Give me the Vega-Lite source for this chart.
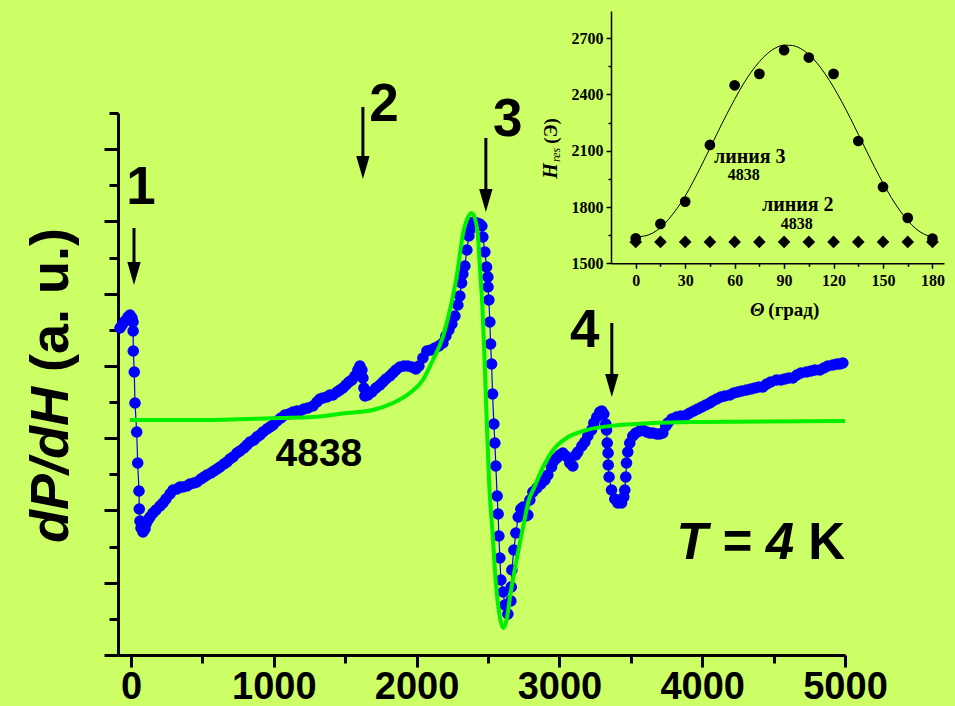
{
  "$schema": "https://vega.github.io/schema/vega-lite/v6.json",
  "width": 727,
  "height": 542,
  "autosize": {"type": "none"},
  "padding": {"left": 118, "top": 113, "right": 110, "bottom": 51},
  "background": "#CCFF66",
  "config": {"view": {"stroke": null}, "axis": {"grid": false}},
  "datasets": {
    "scan": [
      {"H": -77, "Y": 327}, {"H": -63, "Y": 330}, {"H": -42, "Y": 334}, {"H": -21, "Y": 338}, {"H": -7, "Y": 340},
      {"H": 7, "Y": 337}, {"H": 14, "Y": 333}, {"H": 15, "Y": 324}, {"H": 16, "Y": 304}, {"H": 23, "Y": 283},
      {"H": 28, "Y": 252}, {"H": 40, "Y": 223}, {"H": 47, "Y": 192}, {"H": 56, "Y": 164}, {"H": 58, "Y": 146},
      {"H": 63, "Y": 134}, {"H": 70, "Y": 127}, {"H": 84, "Y": 123}, {"H": 98, "Y": 126}, {"H": 105, "Y": 131},
      {"H": 119, "Y": 135}, {"H": 133, "Y": 138}, {"H": 154, "Y": 142}, {"H": 175, "Y": 145}, {"H": 203, "Y": 149},
      {"H": 224, "Y": 152}, {"H": 245, "Y": 156}, {"H": 273, "Y": 161}, {"H": 294, "Y": 165}, {"H": 322, "Y": 166},
      {"H": 343, "Y": 168}, {"H": 364, "Y": 168}, {"H": 392, "Y": 169}, {"H": 413, "Y": 171}, {"H": 441, "Y": 172},
      {"H": 462, "Y": 173}, {"H": 490, "Y": 176}, {"H": 511, "Y": 178}, {"H": 532, "Y": 180}, {"H": 560, "Y": 182},
      {"H": 581, "Y": 184}, {"H": 602, "Y": 186}, {"H": 623, "Y": 188}, {"H": 651, "Y": 191}, {"H": 672, "Y": 193},
      {"H": 693, "Y": 196}, {"H": 714, "Y": 198}, {"H": 742, "Y": 202}, {"H": 763, "Y": 204}, {"H": 791, "Y": 207},
      {"H": 812, "Y": 210}, {"H": 833, "Y": 213}, {"H": 861, "Y": 215}, {"H": 882, "Y": 218}, {"H": 903, "Y": 220},
      {"H": 924, "Y": 223}, {"H": 952, "Y": 226}, {"H": 973, "Y": 228}, {"H": 994, "Y": 230}, {"H": 1022, "Y": 234},
      {"H": 1050, "Y": 237}, {"H": 1078, "Y": 240}, {"H": 1106, "Y": 241}, {"H": 1134, "Y": 243}, {"H": 1162, "Y": 244},
      {"H": 1183, "Y": 244}, {"H": 1211, "Y": 246}, {"H": 1239, "Y": 247}, {"H": 1274, "Y": 249}, {"H": 1302, "Y": 253},
      {"H": 1323, "Y": 256}, {"H": 1344, "Y": 257}, {"H": 1372, "Y": 258}, {"H": 1393, "Y": 260}, {"H": 1414, "Y": 260},
      {"H": 1442, "Y": 263}, {"H": 1463, "Y": 265}, {"H": 1484, "Y": 267}, {"H": 1505, "Y": 270}, {"H": 1526, "Y": 273},
      {"H": 1547, "Y": 275}, {"H": 1568, "Y": 279}, {"H": 1589, "Y": 285}, {"H": 1603, "Y": 289}, {"H": 1617, "Y": 285},
      {"H": 1624, "Y": 277}, {"H": 1631, "Y": 267}, {"H": 1638, "Y": 259}, {"H": 1659, "Y": 260}, {"H": 1687, "Y": 263},
      {"H": 1715, "Y": 267}, {"H": 1743, "Y": 270}, {"H": 1764, "Y": 273}, {"H": 1785, "Y": 276}, {"H": 1813, "Y": 279},
      {"H": 1834, "Y": 282}, {"H": 1855, "Y": 285}, {"H": 1883, "Y": 288}, {"H": 1911, "Y": 289}, {"H": 1939, "Y": 289},
      {"H": 1967, "Y": 288}, {"H": 1995, "Y": 286}, {"H": 2016, "Y": 289}, {"H": 2044, "Y": 297}, {"H": 2072, "Y": 304},
      {"H": 2100, "Y": 305}, {"H": 2128, "Y": 307}, {"H": 2156, "Y": 309}, {"H": 2184, "Y": 312}, {"H": 2205, "Y": 319},
      {"H": 2226, "Y": 325}, {"H": 2247, "Y": 331}, {"H": 2268, "Y": 339}, {"H": 2289, "Y": 350}, {"H": 2303, "Y": 359},
      {"H": 2315, "Y": 372}, {"H": 2324, "Y": 381}, {"H": 2338, "Y": 389}, {"H": 2352, "Y": 405}, {"H": 2366, "Y": 419},
      {"H": 2373, "Y": 425}, {"H": 2387, "Y": 432}, {"H": 2401, "Y": 433}, {"H": 2422, "Y": 432}, {"H": 2443, "Y": 431},
      {"H": 2457, "Y": 429}, {"H": 2464, "Y": 418}, {"H": 2478, "Y": 403}, {"H": 2490, "Y": 388}, {"H": 2499, "Y": 378},
      {"H": 2500, "Y": 368}, {"H": 2506, "Y": 355}, {"H": 2513, "Y": 333}, {"H": 2518, "Y": 311}, {"H": 2525, "Y": 291},
      {"H": 2532, "Y": 261}, {"H": 2541, "Y": 231}, {"H": 2548, "Y": 212}, {"H": 2555, "Y": 189}, {"H": 2564, "Y": 159},
      {"H": 2571, "Y": 141}, {"H": 2576, "Y": 119}, {"H": 2583, "Y": 97}, {"H": 2590, "Y": 75}, {"H": 2606, "Y": 63},
      {"H": 2618, "Y": 50}, {"H": 2639, "Y": 41}, {"H": 2660, "Y": 54}, {"H": 2663, "Y": 68}, {"H": 2667, "Y": 85},
      {"H": 2681, "Y": 105}, {"H": 2695, "Y": 122}, {"H": 2712, "Y": 138}, {"H": 2730, "Y": 146}, {"H": 2746, "Y": 148},
      {"H": 2765, "Y": 139}, {"H": 2779, "Y": 140}, {"H": 2793, "Y": 155}, {"H": 2814, "Y": 163}, {"H": 2842, "Y": 167},
      {"H": 2870, "Y": 171}, {"H": 2898, "Y": 175}, {"H": 2919, "Y": 180}, {"H": 2945, "Y": 188}, {"H": 2961, "Y": 194},
      {"H": 2982, "Y": 197}, {"H": 3003, "Y": 200}, {"H": 3024, "Y": 202}, {"H": 3045, "Y": 199}, {"H": 3073, "Y": 192},
      {"H": 3094, "Y": 189}, {"H": 3115, "Y": 200}, {"H": 3129, "Y": 203}, {"H": 3157, "Y": 209}, {"H": 3178, "Y": 213},
      {"H": 3199, "Y": 219}, {"H": 3225, "Y": 225}, {"H": 3241, "Y": 232}, {"H": 3262, "Y": 238}, {"H": 3283, "Y": 243},
      {"H": 3297, "Y": 244}, {"H": 3311, "Y": 241}, {"H": 3325, "Y": 231}, {"H": 3330, "Y": 225}, {"H": 3335, "Y": 212},
      {"H": 3341, "Y": 202}, {"H": 3342, "Y": 190}, {"H": 3348, "Y": 178}, {"H": 3365, "Y": 165}, {"H": 3388, "Y": 156},
      {"H": 3409, "Y": 152}, {"H": 3435, "Y": 152}, {"H": 3451, "Y": 158}, {"H": 3458, "Y": 165}, {"H": 3465, "Y": 178},
      {"H": 3470, "Y": 192}, {"H": 3479, "Y": 203}, {"H": 3493, "Y": 212}, {"H": 3514, "Y": 219}, {"H": 3535, "Y": 222},
      {"H": 3563, "Y": 224}, {"H": 3584, "Y": 225}, {"H": 3612, "Y": 223}, {"H": 3633, "Y": 222}, {"H": 3654, "Y": 222},
      {"H": 3682, "Y": 221}, {"H": 3703, "Y": 221}, {"H": 3724, "Y": 222}, {"H": 3745, "Y": 229}, {"H": 3759, "Y": 232},
      {"H": 3787, "Y": 236}, {"H": 3820, "Y": 238}, {"H": 3851, "Y": 239}, {"H": 3890, "Y": 240}, {"H": 3913, "Y": 242},
      {"H": 3941, "Y": 244}, {"H": 3969, "Y": 246}, {"H": 3997, "Y": 248}, {"H": 4025, "Y": 250}, {"H": 4053, "Y": 252},
      {"H": 4074, "Y": 254}, {"H": 4102, "Y": 256}, {"H": 4130, "Y": 258}, {"H": 4158, "Y": 259}, {"H": 4193, "Y": 260},
      {"H": 4221, "Y": 262}, {"H": 4249, "Y": 263}, {"H": 4277, "Y": 264}, {"H": 4310, "Y": 265}, {"H": 4341, "Y": 266},
      {"H": 4369, "Y": 267}, {"H": 4397, "Y": 268}, {"H": 4425, "Y": 268}, {"H": 4452, "Y": 271}, {"H": 4480, "Y": 273},
      {"H": 4520, "Y": 275}, {"H": 4551, "Y": 275}, {"H": 4579, "Y": 276}, {"H": 4607, "Y": 277}, {"H": 4635, "Y": 277},
      {"H": 4663, "Y": 280}, {"H": 4691, "Y": 282}, {"H": 4730, "Y": 283}, {"H": 4761, "Y": 284}, {"H": 4789, "Y": 285},
      {"H": 4824, "Y": 285}, {"H": 4852, "Y": 287}, {"H": 4880, "Y": 289}, {"H": 4915, "Y": 290}, {"H": 4943, "Y": 291},
      {"H": 4964, "Y": 291}, {"H": 4985, "Y": 292}
    ],
    "fit": [
      {"H": -7, "Y": 235}, {"H": 483, "Y": 235}, {"H": 1043, "Y": 237}, {"H": 1274, "Y": 238}, {"H": 1512, "Y": 242},
      {"H": 1694, "Y": 245}, {"H": 1834, "Y": 252}, {"H": 1953, "Y": 262}, {"H": 2044, "Y": 275}, {"H": 2114, "Y": 295},
      {"H": 2184, "Y": 318}, {"H": 2233, "Y": 345}, {"H": 2280, "Y": 378}, {"H": 2326, "Y": 422}, {"H": 2361, "Y": 438},
      {"H": 2385, "Y": 442}, {"H": 2408, "Y": 437}, {"H": 2432, "Y": 415}, {"H": 2443, "Y": 388}, {"H": 2462, "Y": 345},
      {"H": 2478, "Y": 288}, {"H": 2490, "Y": 238}, {"H": 2508, "Y": 172}, {"H": 2532, "Y": 122}, {"H": 2555, "Y": 72},
      {"H": 2583, "Y": 38}, {"H": 2606, "Y": 27}, {"H": 2630, "Y": 35}, {"H": 2658, "Y": 62}, {"H": 2700, "Y": 95},
      {"H": 2746, "Y": 128}, {"H": 2786, "Y": 155}, {"H": 2816, "Y": 165}, {"H": 2886, "Y": 188}, {"H": 2957, "Y": 205},
      {"H": 3050, "Y": 217}, {"H": 3190, "Y": 225}, {"H": 3424, "Y": 230}, {"H": 3654, "Y": 232}, {"H": 3984, "Y": 233},
      {"H": 5000, "Y": 234}
    ],
    "arrows": [
      {"H": 21, "Y": 427, "Y2": 382},
      {"H": 1624, "Y": 548, "Y2": 488},
      {"H": 2485, "Y": 517, "Y2": 455},
      {"H": 3367, "Y": 332, "Y2": 270}
    ],
    "heads": [
      {"H": 21, "Y": 381.5},
      {"H": 1624, "Y": 487.5},
      {"H": 2485, "Y": 454.5},
      {"H": 3367, "Y": 269.5}
    ],
    "lineNumbers": [
      {"H": 70, "Y": 467, "label": "1"},
      {"H": 1771, "Y": 550, "label": "2"},
      {"H": 2639, "Y": 535, "label": "3"},
      {"H": 3178, "Y": 324, "label": "4"}
    ],
    "line3": [
      {"theta": 0, "Hres": 1633}, {"theta": 15, "Hres": 1710}, {"theta": 30, "Hres": 1829}, {"theta": 45, "Hres": 2131},
      {"theta": 60, "Hres": 2449}, {"theta": 75, "Hres": 2510}, {"theta": 90, "Hres": 2636}, {"theta": 105, "Hres": 2597},
      {"theta": 120, "Hres": 2510}, {"theta": 135, "Hres": 2152}, {"theta": 150, "Hres": 1907}, {"theta": 165, "Hres": 1742},
      {"theta": 180, "Hres": 1632}
    ],
    "line2": [
      {"theta": 0, "Hres": 1614}, {"theta": 15, "Hres": 1614}, {"theta": 30, "Hres": 1614}, {"theta": 45, "Hres": 1614},
      {"theta": 60, "Hres": 1614}, {"theta": 75, "Hres": 1614}, {"theta": 90, "Hres": 1614}, {"theta": 105, "Hres": 1614},
      {"theta": 120, "Hres": 1614}, {"theta": 135, "Hres": 1614}, {"theta": 150, "Hres": 1614}, {"theta": 165, "Hres": 1614},
      {"theta": 180, "Hres": 1614}
    ],
    "line3fit": [
      {"theta": 0, "Hres": 1641}, {"theta": 5, "Hres": 1645}, {"theta": 10, "Hres": 1660}, {"theta": 15, "Hres": 1690},
      {"theta": 20, "Hres": 1735}, {"theta": 25, "Hres": 1792}, {"theta": 30, "Hres": 1858}, {"theta": 35, "Hres": 1938},
      {"theta": 40, "Hres": 2024}, {"theta": 45, "Hres": 2113}, {"theta": 50, "Hres": 2203}, {"theta": 55, "Hres": 2291},
      {"theta": 60, "Hres": 2374}, {"theta": 65, "Hres": 2452}, {"theta": 70, "Hres": 2519}, {"theta": 75, "Hres": 2575},
      {"theta": 80, "Hres": 2619}, {"theta": 85, "Hres": 2649}, {"theta": 90, "Hres": 2663}, {"theta": 95, "Hres": 2661},
      {"theta": 100, "Hres": 2645}, {"theta": 105, "Hres": 2613}, {"theta": 110, "Hres": 2567}, {"theta": 115, "Hres": 2508},
      {"theta": 120, "Hres": 2439}, {"theta": 125, "Hres": 2361}, {"theta": 130, "Hres": 2277}, {"theta": 135, "Hres": 2188},
      {"theta": 140, "Hres": 2099}, {"theta": 145, "Hres": 2011}, {"theta": 150, "Hres": 1928}, {"theta": 155, "Hres": 1851},
      {"theta": 160, "Hres": 1784}, {"theta": 165, "Hres": 1728}, {"theta": 170, "Hres": 1684}, {"theta": 175, "Hres": 1655},
      {"theta": 180, "Hres": 1641}
    ]
  },
  "layer": [
    {
      "encoding": {
        "x": {
          "field": "H", "type": "quantitative",
          "scale": {"domain": [-91, 5000], "nice": false, "zero": false},
          "axis": {
            "title": null,
            "values": [0, 500, 1000, 1500, 2000, 2500, 3000, 3500, 4000, 4500, 5000],
            "format": "d",
            "labelExpr": "datum.value % 1000 === 0 ? datum.label : ''",
            "domainColor": "black", "domainWidth": 3,
            "tickColor": "black", "tickWidth": 3,
            "tickSize": {"condition": {"test": "datum.value % 1000 === 0", "value": 12}, "value": 8},
            "labelFont": "Liberation Sans", "labelFontSize": 38, "labelFontWeight": "bold", "labelColor": "black",
            "labelPadding": 1, "labelOverlap": false, "labelFlush": false, "grid": false
          }
        },
        "y": {
          "field": "Y", "type": "quantitative",
          "scale": {"domain": [0, 542], "nice": false, "zero": false},
          "axis": {
            "title": null,
            "values": [0, 36.13, 72.27, 108.4, 144.53, 180.67, 216.8, 252.93, 289.07, 325.2, 361.33, 397.47, 433.6, 469.73, 505.87, 542],
            "labels": false,
            "domainColor": "black", "domainWidth": 3,
            "tickColor": "black", "tickWidth": 3,
            "tickSize": {"condition": {"test": "indexof([0, 72.27, 144.53, 216.8, 289.07, 361.33, 433.6, 505.87], datum.value) >= 0", "value": 14}, "value": 9},
            "grid": false
          }
        }
      },
      "layer": [
        {"data": {"name": "scan"}, "mark": {"type": "line", "color": "#0000FF", "strokeWidth": 1.2}},
        {"data": {"name": "scan"}, "mark": {"type": "point", "shape": "circle", "filled": true, "color": "#0000FF", "opacity": 1, "size": 135}},
        {"data": {"name": "fit"}, "mark": {"type": "line", "color": "#00F000", "strokeWidth": 4, "interpolate": "monotone"}},
        {"data": {"name": "arrows"}, "mark": {"type": "rule", "color": "black", "strokeWidth": 3}, "encoding": {"y2": {"field": "Y2"}}},
        {"data": {"name": "heads"}, "mark": {"type": "point", "shape": "M-0.58,-1L0.58,-1L0,1Z", "filled": true, "color": "black", "opacity": 1, "size": 529}},
        {"data": {"name": "lineNumbers"}, "mark": {"type": "text", "font": "Liberation Sans", "fontSize": 53, "fontWeight": "bold", "color": "black", "align": "center", "baseline": "middle"}, "encoding": {"text": {"field": "label"}}},
        {"data": {"values": [{"H": 1316, "Y": 201, "label": "4838"}]}, "mark": {"type": "text", "font": "Liberation Sans", "fontSize": 39, "fontWeight": "bold", "color": "black", "align": "center", "baseline": "middle"}, "encoding": {"text": {"field": "label"}}},
        {"data": {"values": [{"H": 4643, "Y": 111.5, "label": "T = 4"}]}, "mark": {"type": "text", "font": "Liberation Sans", "fontSize": 51, "fontWeight": "bold", "fontStyle": "italic", "color": "black", "align": "right", "baseline": "middle"}, "encoding": {"text": {"field": "label"}}},
        {"data": {"values": [{"H": 5000, "Y": 111.5, "label": "K"}]}, "mark": {"type": "text", "font": "Liberation Sans", "fontSize": 51, "fontWeight": "bold", "color": "black", "align": "right", "baseline": "middle"}, "encoding": {"text": {"field": "label"}}},
        {"data": {"values": [{"H": -441, "Y": 112, "label": "dP/dH"}]}, "mark": {"type": "text", "font": "Liberation Sans", "fontSize": 54, "fontWeight": "bold", "fontStyle": "italic", "color": "black", "align": "left", "baseline": "alphabetic", "angle": 270}, "encoding": {"text": {"field": "label"}}},
        {"data": {"values": [{"H": -441, "Y": 283, "label": "(a. u.)"}]}, "mark": {"type": "text", "font": "Liberation Sans", "fontSize": 54, "fontWeight": "bold", "color": "black", "align": "left", "baseline": "alphabetic", "angle": 270}, "encoding": {"text": {"field": "label"}}}
      ]
    },
    {
      "encoding": {
        "x": {
          "field": "theta", "type": "quantitative",
          "scale": {"domain": [-15, 187], "range": [493, 826], "nice": false, "zero": false},
          "axis": {
            "orient": "bottom", "offset": -391.7, "title": null,
            "values": [0, 15, 30, 45, 60, 75, 90, 105, 120, 135, 150, 165, 180],
            "labelExpr": "datum.value % 30 === 0 ? datum.label : ''",
            "domainColor": "black", "domainWidth": 1.5,
            "tickColor": "black", "tickWidth": 1.5,
            "tickSize": {"condition": {"test": "datum.value % 30 === 0", "value": 5}, "value": 3},
            "labelFont": "Liberation Serif", "labelFontSize": 16, "labelFontWeight": "bold", "labelColor": "black",
            "labelPadding": 4, "labelOverlap": false, "labelFlush": false, "grid": false
          }
        },
        "y": {
          "field": "Hres", "type": "quantitative",
          "scale": {"domain": [1500, 2845], "range": [150.3, -102], "nice": false, "zero": false},
          "axis": {
            "orient": "left", "offset": -493, "title": null,
            "values": [1500, 1650, 1800, 1950, 2100, 2250, 2400, 2550, 2700],
            "format": "d",
            "labelExpr": "datum.value % 300 === 0 ? datum.label : ''",
            "domainColor": "black", "domainWidth": 1.5,
            "tickColor": "black", "tickWidth": 1.5,
            "tickSize": {"condition": {"test": "datum.value % 300 === 0", "value": 5}, "value": 3},
            "labelFont": "Liberation Serif", "labelFontSize": 16, "labelFontWeight": "bold", "labelColor": "black",
            "labelPadding": 3, "labelOverlap": false, "labelFlush": false, "grid": false
          }
        }
      },
      "layer": [
        {"data": {"name": "line3fit"}, "mark": {"type": "line", "color": "black", "strokeWidth": 1, "interpolate": "monotone"}},
        {"data": {"name": "line3"}, "mark": {"type": "point", "shape": "circle", "filled": true, "color": "black", "opacity": 1, "size": 115}},
        {"data": {"name": "line2"}, "mark": {"type": "point", "shape": "diamond", "filled": true, "color": "black", "opacity": 1, "size": 160}},
        {"data": {"values": [{"theta": 69.2, "Hres": 2068, "label": "линия 3"}, {"theta": 98.3, "Hres": 1810, "label": "линия 2"}]}, "mark": {"type": "text", "font": "Liberation Serif", "fontSize": 20, "fontWeight": "bold", "color": "black", "align": "center", "baseline": "middle"}, "encoding": {"text": {"field": "label"}}},
        {"data": {"values": [{"theta": 65.5, "Hres": 1970, "label": "4838"}, {"theta": 97.7, "Hres": 1710, "label": "4838"}]}, "mark": {"type": "text", "font": "Liberation Serif", "fontSize": 16, "fontWeight": "bold", "color": "black", "align": "center", "baseline": "middle"}, "encoding": {"text": {"field": "label"}}},
        {"data": {"values": [{"theta": 73.7, "Hres": 1251, "label": "Θ"}]}, "mark": {"type": "text", "font": "Liberation Serif", "fontSize": 19, "fontWeight": "bold", "fontStyle": "italic", "color": "black", "align": "center", "baseline": "middle"}, "encoding": {"text": {"field": "label"}}},
        {"data": {"values": [{"theta": 95.9, "Hres": 1251, "label": "(град)"}]}, "mark": {"type": "text", "font": "Liberation Serif", "fontSize": 19, "fontWeight": "bold", "color": "black", "align": "center", "baseline": "middle"}, "encoding": {"text": {"field": "label"}}},
        {"data": {"values": [{"theta": -51.3, "Hres": 1992, "label": "H"}]}, "mark": {"type": "text", "font": "Liberation Serif", "fontSize": 20, "fontWeight": "bold", "fontStyle": "italic", "color": "black", "align": "center", "baseline": "middle", "angle": 270}, "encoding": {"text": {"field": "label"}}},
        {"data": {"values": [{"theta": -48.5, "Hres": 2078, "label": "res"}]}, "mark": {"type": "text", "font": "Liberation Serif", "fontSize": 12, "fontStyle": "italic", "color": "black", "align": "center", "baseline": "middle", "angle": 270}, "encoding": {"text": {"field": "label"}}},
        {"data": {"values": [{"theta": -51.3, "Hres": 2206, "label": "(Э)"}]}, "mark": {"type": "text", "font": "Liberation Serif", "fontSize": 19, "fontWeight": "bold", "color": "black", "align": "center", "baseline": "middle", "angle": 270}, "encoding": {"text": {"field": "label"}}}
      ]
    }
  ],
  "resolve": {
    "scale": {"x": "independent", "y": "independent"},
    "axis": {"x": "independent", "y": "independent"}
  }
}
